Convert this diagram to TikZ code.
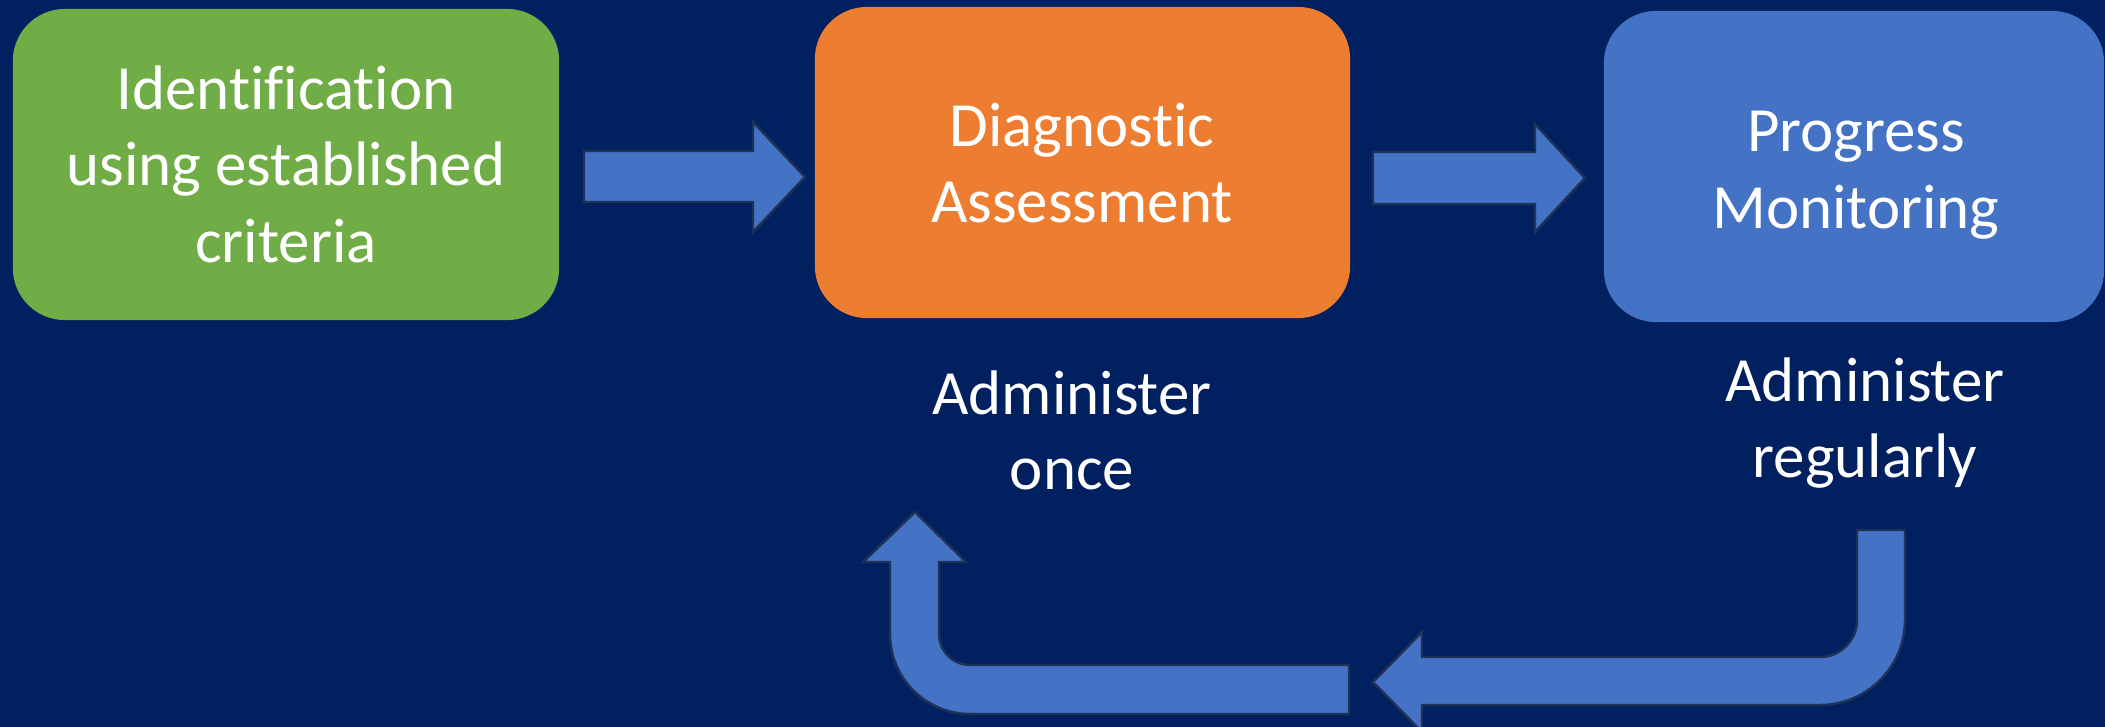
\documentclass[tikz,border=0pt]{standalone}
\usepackage{fontspec}
\setmainfont{Carlito}[Ligatures=NoCommon]
\definecolor{bgnavy}{RGB}{0,32,96}
\definecolor{boxgreen}{HTML}{70AD47}
\definecolor{boxorange}{HTML}{ED7D31}
\definecolor{boxblue}{HTML}{4472C4}
\definecolor{arrowline}{RGB}{30,50,88}
\begin{document}
\begin{tikzpicture}[x=0.01cm,y=-0.01cm,
  box/.style={rectangle, rounded corners=0.52cm, minimum height=3.11cm, inner sep=0pt, draw=none},
  txt/.style={text=white, anchor=base, inner sep=0pt, font=\fontsize{17.9pt}{21.6pt}\selectfont},
  blockarrow/.style={fill=boxblue, draw=arrowline, line width=0.7pt, line join=miter}]
\fill[bgnavy] (0,0) rectangle (2105,727);
\useasboundingbox (0,0) rectangle (2105,727);
% boxes
\node[box, fill=boxgreen, minimum width=5.46cm] (ident) at (286,164.5) {};
\node[box, fill=boxorange, minimum width=5.35cm] (diag) at (1082.5,162.5) {};
\node[box, fill=boxblue, minimum width=5.00cm] (prog) at (1854,166.5) {};
% box texts
\node[txt] (identA) at (286,109) {Identification};
\node[txt] (identB) at (286,185) {using established};
\node[txt] (identC) at (286,262) {criteria};
\node[txt] (diagA) at (1082,146) {Diagnostic};
\node[txt] (diagB) at (1082,222) {Assessment};
\node[txt] (progA) at (1856,151) {Progress};
\node[txt] (progB) at (1856,228) {Monitoring};
% labels
\node[txt] (onceA) at (1072,414) {Administer};
\node[txt] (onceB) at (1072,489) {once};
\node[txt] (regA) at (1865,401) {Administer};
\node[txt] (regB) at (1865,477) {regularly};
% block arrows
\draw[blockarrow] (584,151) -- (753,151) -- (753,122) -- (805,177) -- (753,232) -- (753,202) -- (584,202) -- cycle;
\draw[blockarrow] (1373,152) -- (1535,152) -- (1535,124) -- (1585,178) -- (1535,232) -- (1535,204) -- (1373,204) -- cycle;
\begin{scope}
\clip (0,0) rectangle (2105,727);
\draw[blockarrow] (1857,530) -- (1905,530) -- (1905,620)
  .. controls (1905,666.9) and (1866.9,705) .. (1820,705)
  -- (1422,705) -- (1422,732) -- (1373,682) -- (1422,632) -- (1422,657) -- (1820,657)
  .. controls (1840.4,657) and (1857,640.4) .. (1857,620) -- cycle;
\end{scope}
\draw[blockarrow] (1349,665) -- (970,665)
  .. controls (952.9,665) and (939,651.1) .. (939,634)
  -- (939,562) -- (966,562) -- (915,512) -- (863,562) -- (890,562) -- (890,634)
  .. controls (890,678.2) and (925.8,714) .. (970,714) -- (1349,714) -- cycle;
\end{tikzpicture}
\end{document}
